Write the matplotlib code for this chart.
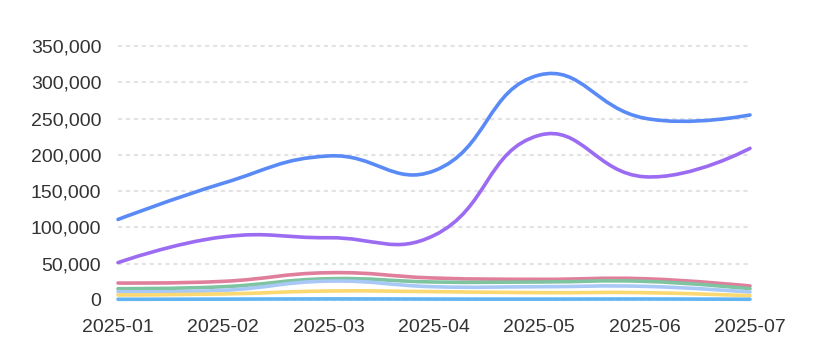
import numpy as np
import matplotlib

matplotlib.use("Agg")
import matplotlib.pyplot as plt
from matplotlib.path import Path
from matplotlib.patches import PathPatch
from matplotlib.ticker import FuncFormatter, MultipleLocator

# --- data ---
months = ["2025-01", "2025-02", "2025-03", "2025-04", "2025-05", "2025-06", "2025-07"]
series_blue = [111000, 161000, 198500, 178000, 310000, 250500, 255000]
series_purple = [51500, 87000, 85800, 89000, 227000, 169800, 209000]
series_pink = [23400, 25700, 37600, 30300, 28500, 29300, 19300]
series_green = [15600, 18300, 29300, 24800, 24800, 25700, 15600]
series_lightblue = [11500, 13300, 26000, 18300, 18300, 18800, 11000]
series_yellow = [6900, 8300, 12400, 11500, 10100, 10100, 5900]
series_sky = [1000, 1200, 1500, 1300, 1200, 1400, 1000]

series = [
    (series_pink, "#e07f9c"),
    (series_green, "#7fc4a0"),
    (series_lightblue, "#a8c8f6"),
    (series_yellow, "#fbd870"),
    (series_sky, "#62b4f2"),
    (series_purple, "#9b6cf2"),
    (series_blue, "#5a8af6"),
]

W, H, DPI = 820, 358, 100
LEFT, RIGHT, Y0, YTOP = 118, 750, 300, 46
YMAX = 350000


def smooth_path(xs, ys, sx, sy, smooth=0.45):
    """Bezier path with echarts-style smoothing, computed in pixel space."""
    px = np.asarray(xs, float) * sx
    py = np.asarray(ys, float) * sy
    n = len(px)
    verts = [(px[0], py[0])]
    codes = [Path.MOVETO]
    cp0 = (px[0], py[0])
    for i in range(1, n):
        x, y = px[i], py[i]
        if i == n - 1:
            ncp = (x, y)
            out = None
        else:
            vx, vy = px[i + 1] - px[i - 1], py[i + 1] - py[i - 1]
            l0 = np.hypot(x - px[i - 1], y - py[i - 1])
            l1 = np.hypot(px[i + 1] - x, py[i + 1] - y)
            r = l1 / (l0 + l1)
            ncp = (x - vx * smooth * (1 - r), y - vy * smooth * (1 - r))
            out = (x + vx * smooth * r, y + vy * smooth * r)
        verts += [cp0, ncp, (x, y)]
        codes += [Path.CURVE4] * 3
        cp0 = out
    verts = [(vx_ / sx, vy_ / sy) for vx_, vy_ in verts]
    return Path(verts, codes)


plt.rcParams["font.family"] = ["Liberation Sans", "DejaVu Sans"]

fig = plt.figure(figsize=(W / DPI, H / DPI), dpi=DPI)
ax = fig.add_axes([LEFT / W, (H - Y0) / H, (RIGHT - LEFT) / W, (Y0 - YTOP) / H])

x = np.arange(len(months))
sx = (RIGHT - LEFT) / (len(months) - 1)
sy = (Y0 - YTOP) / YMAX

for vals, color in series:
    path = smooth_path(x, vals, sx, sy)
    ax.add_patch(PathPatch(path, facecolor="none", edgecolor=color, lw=2.6,
                           capstyle="round", joinstyle="round", clip_on=False, zorder=3))

ax.set_xlim(0, len(months) - 1)
ax.set_ylim(0, YMAX)
ax.set_xticks(x)
ax.set_xticklabels(months)
ax.yaxis.set_major_locator(MultipleLocator(50000))
ax.yaxis.set_major_formatter(FuncFormatter(lambda v, _: f"{int(v):,}"))

ax.grid(axis="y", color="#e3e3e3", lw=1.5, linestyle=(0, (2.0, 1.8)))
ax.grid(axis="x", visible=False)
for gl in ax.get_ygridlines():
    gl.set_clip_on(False)
ax.set_axisbelow(True)

for s in ax.spines.values():
    s.set_visible(False)
ax.tick_params(axis="both", length=0, labelsize=14, colors="#333333")
ax.tick_params(axis="y", pad=12)
ax.tick_params(axis="x", pad=14)

fig.savefig("out.png", dpi=DPI)
